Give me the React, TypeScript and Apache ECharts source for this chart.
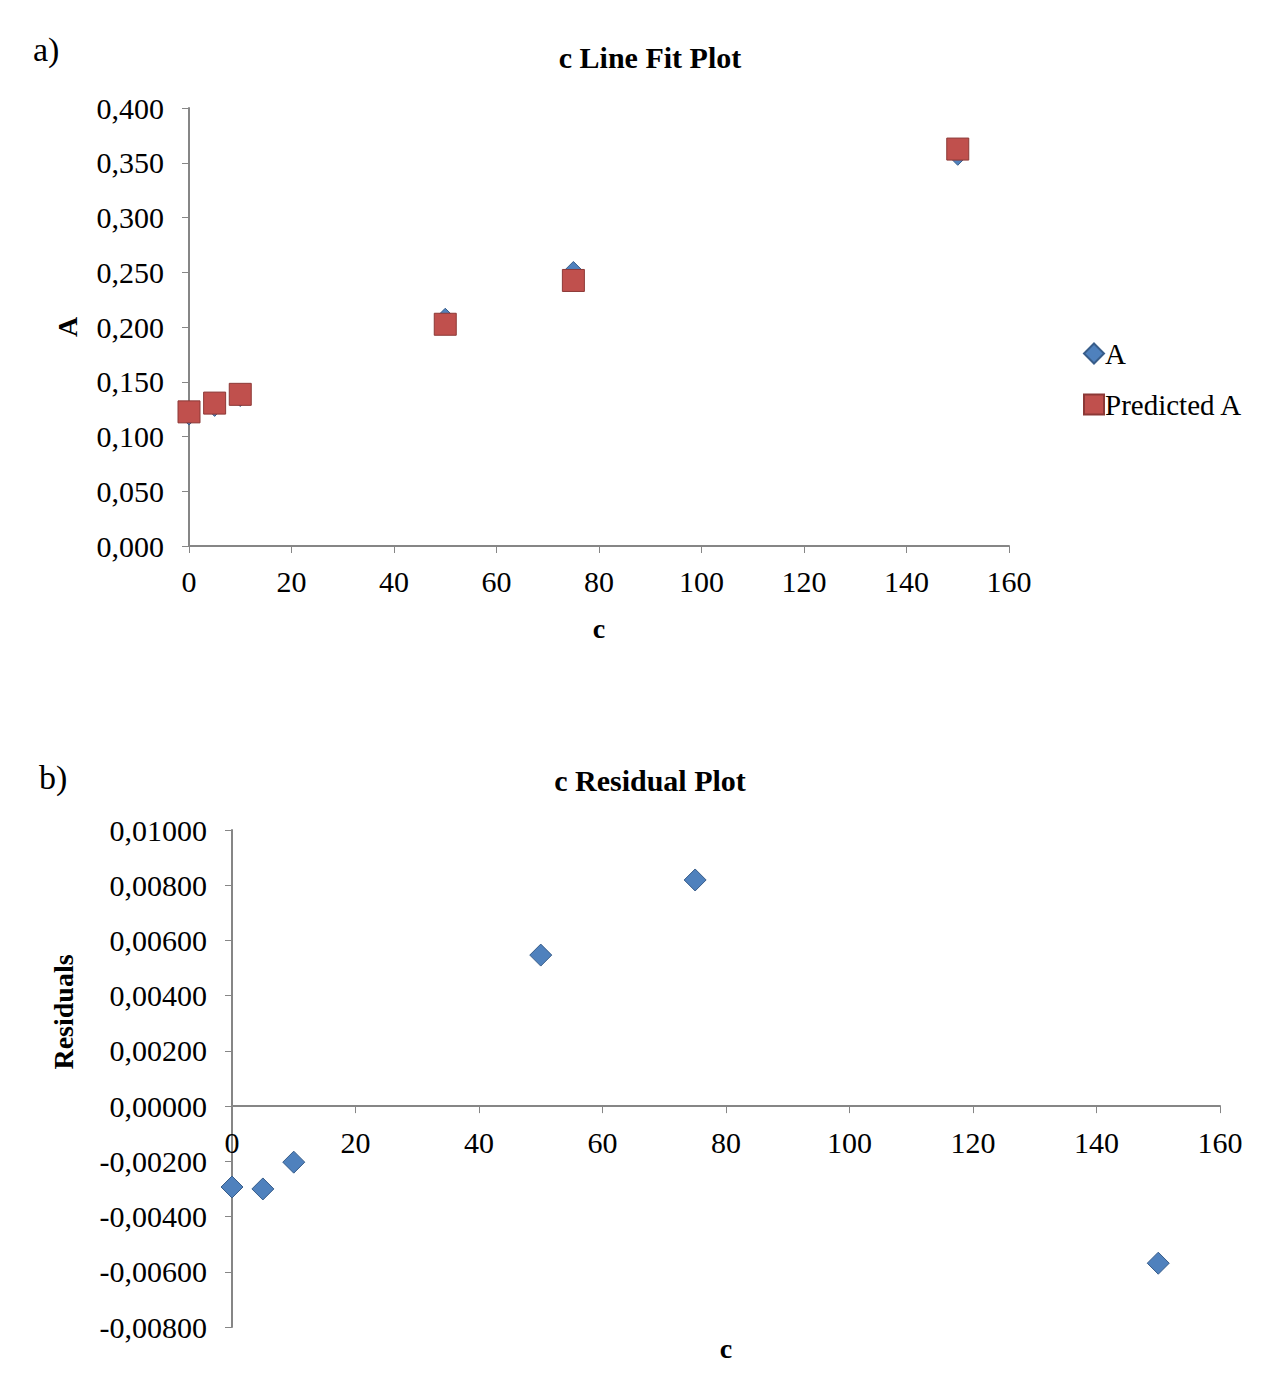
import React, { useEffect, useRef } from "react";
import * as echarts from "echarts";

const xValues = [0, 5, 10, 50, 75, 150];
const actualA = [0.1196, 0.1275, 0.1365, 0.208, 0.2507, 0.3568];
const predictedA = [0.1225, 0.1305, 0.1385, 0.2025, 0.2425, 0.3625];
const residuals = [-0.00293, -0.003, -0.00203, 0.00547, 0.00819, -0.00569];

const FONT = "'Liberation Serif', 'Times New Roman', serif";
const AXIS_COLOR = "#868686";

const comma = (v: number, d: number) => v.toFixed(d).replace(".", ",");

export default function App() {
  const ref = useRef<HTMLDivElement>(null);
  useEffect(() => {
    if (!ref.current) return;
    const chart = echarts.init(ref.current, undefined, { renderer: "svg" });
    const axisLabel = { fontFamily: FONT, fontSize: 30, color: "#000" };
    const bottomGridTop = 830;
    const bottomGridHeight = 497;
    const resMin = -0.008;
    const resMax = 0.01;
    // shift the bottom x axis up onto the zero line of the residual axis
    const zeroOffset = -bottomGridHeight * (0 - resMin) / (resMax - resMin);
    chart.setOption({
      animation: false,
      backgroundColor: "#fff",
      textStyle: { fontFamily: FONT },
      title: [
        {
          text: "c Line Fit Plot",
          left: 645,
          top: 37,
          textAlign: "center",
          textStyle: { fontFamily: FONT, fontSize: 30, fontWeight: "bold", color: "#000" },
        },
        {
          text: "c Residual Plot",
          left: 645,
          top: 760,
          textAlign: "center",
          textStyle: { fontFamily: FONT, fontSize: 30, fontWeight: "bold", color: "#000" },
        },
      ],
      graphic: [
        { type: "text", left: 33, top: 32, style: { text: "a)", font: `34px ${FONT}`, fill: "#000" } },
        { type: "text", left: 39, top: 760, style: { text: "b)", font: `34px ${FONT}`, fill: "#000" } },
        {
          type: "text",
          x: 63,
          y: 1012,
          rotation: Math.PI / 2,
          style: {
            text: "Residuals",
            font: `bold 28px ${FONT}`,
            fill: "#000",
            align: "center",
            verticalAlign: "middle",
          },
        },
      ],
      legend: {
        data: ["A", "Predicted A"],
        orient: "vertical",
        left: 1078,
        top: 334,
        itemWidth: 20,
        itemHeight: 20,
        itemGap: 22,
        textStyle: { fontFamily: FONT, fontSize: 29, color: "#000", padding: [0, 0, 0, -4] },
      },
      grid: [
        { left: 189, width: 820, top: 108, height: 438, outerBoundsMode: "none" },
        { left: 232, width: 988, top: bottomGridTop, height: bottomGridHeight, outerBoundsMode: "none" },
      ],
      xAxis: [
        {
          gridIndex: 0,
          type: "value",
          min: 0,
          max: 160,
          interval: 20,
          name: "c",
          nameLocation: "middle",
          nameGap: 68,
          nameTextStyle: { fontFamily: FONT, fontSize: 28, fontWeight: "bold", color: "#000" },
          axisLine: { lineStyle: { color: AXIS_COLOR, width: 2 } },
          axisTick: { show: true, length: 7, lineStyle: { color: AXIS_COLOR } },
          axisLabel: { ...axisLabel, margin: 20 },
          splitLine: { show: false },
        },
        {
          gridIndex: 1,
          type: "value",
          min: 0,
          max: 160,
          interval: 20,
          position: "bottom",
          offset: zeroOffset,
          name: "c",
          nameLocation: "middle",
          nameGap: 228,
          nameTextStyle: { fontFamily: FONT, fontSize: 28, fontWeight: "bold", color: "#000" },
          axisLine: { onZero: false, lineStyle: { color: AXIS_COLOR, width: 2 } },
          axisTick: { show: true, length: 7, lineStyle: { color: AXIS_COLOR } },
          axisLabel: { ...axisLabel, margin: 21 },
          splitLine: { show: false },
        },
      ],
      yAxis: [
        {
          gridIndex: 0,
          type: "value",
          min: 0,
          max: 0.4,
          interval: 0.05,
          name: "A",
          nameLocation: "middle",
          nameRotate: 90,
          nameGap: 108,
          nameTextStyle: { fontFamily: FONT, fontSize: 28, fontWeight: "bold", color: "#000" },
          axisLine: { show: true, lineStyle: { color: AXIS_COLOR, width: 2 } },
          axisTick: { show: true, length: 7, lineStyle: { color: AXIS_COLOR } },
          axisLabel: { ...axisLabel, margin: 25, formatter: (v: number) => comma(v, 3) },
          splitLine: { show: false },
        },
        {
          gridIndex: 1,
          type: "value",
          min: resMin,
          max: resMax,
          interval: 0.002,
          axisLine: { show: true, onZero: false, lineStyle: { color: AXIS_COLOR, width: 2 } },
          axisTick: { show: true, length: 7, lineStyle: { color: AXIS_COLOR } },
          axisLabel: { ...axisLabel, margin: 25, formatter: (v: number) => comma(v, 5) },
          splitLine: { show: false },
        },
      ],
      series: [
        {
          name: "A",
          type: "scatter",
          xAxisIndex: 0,
          yAxisIndex: 0,
          symbol: "diamond",
          symbolSize: 20,
          itemStyle: { color: "#4F81BD", borderColor: "#385D8A", borderWidth: 1, opacity: 1 },
          data: xValues.map((x, i) => [x, actualA[i]]),
          z: 2,
        },
        {
          name: "Predicted A",
          type: "scatter",
          xAxisIndex: 0,
          yAxisIndex: 0,
          symbol: "rect",
          symbolSize: 22,
          itemStyle: { color: "#C0504D", borderColor: "#8C3836", borderWidth: 1, opacity: 1 },
          data: xValues.map((x, i) => [x, predictedA[i]]),
          z: 3,
        },
        {
          name: "Residuals",
          type: "scatter",
          xAxisIndex: 1,
          yAxisIndex: 1,
          symbol: "diamond",
          symbolSize: 22,
          itemStyle: { color: "#4F81BD", borderColor: "#385D8A", borderWidth: 1, opacity: 1 },
          data: xValues.map((x, i) => [x, residuals[i]]),
        },
      ],
    });
    return () => chart.dispose();
  }, []);
  return (
    <div
      ref={ref}
      style={{ position: "absolute", left: 0, top: 0, width: 1283, height: 1379, background: "#fff" }}
    />
  );
}
